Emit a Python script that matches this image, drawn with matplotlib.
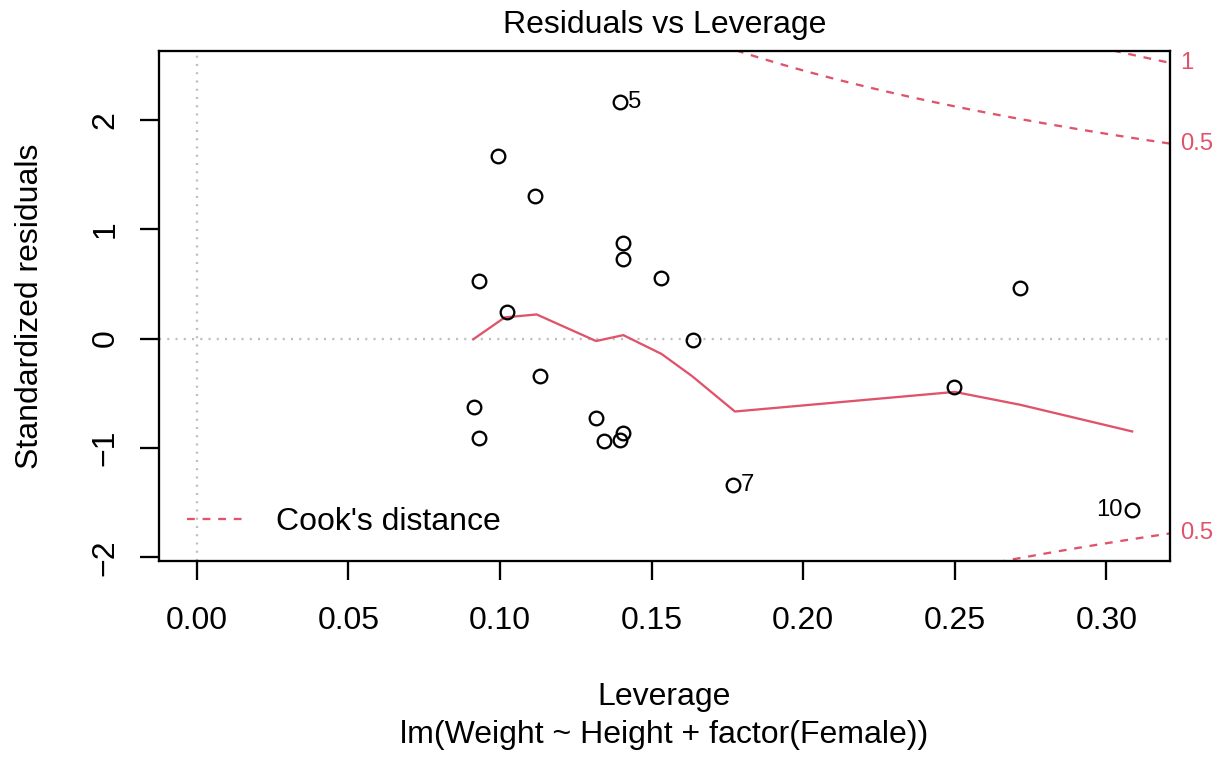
import numpy as np
import matplotlib
matplotlib.use("Agg")
import matplotlib.pyplot as plt

# Diagnostic data: leverage and standardized residuals per observation
obs_id = list(range(1, 21))
leverage = [0.0994, 0.1116, 0.1405, 0.1405, 0.1396, 0.1531, 0.1770, 0.0931, 0.1022, 0.3086,
            0.1636, 0.2715, 0.1132, 0.0913, 0.1316, 0.0932, 0.1343, 0.1395, 0.1406, 0.2499]
std_resid = [1.664, 1.299, 0.871, 0.725, 2.159, 0.552, -1.335, 0.524, 0.239, -1.563,
             -0.014, 0.460, -0.342, -0.622, -0.722, -0.910, -0.941, -0.925, -0.859, -0.439]
labeled_ids = [5, 7, 10]

# Smoothed trend through the residuals
smooth_x = [0.0912, 0.1016, 0.1121, 0.1317, 0.1407, 0.1533, 0.1633, 0.1775, 0.2500, 0.2717, 0.3085]
smooth_y = [-0.007, 0.193, 0.220, -0.023, 0.031, -0.141, -0.342, -0.667, -0.488, -0.606, -0.849]

# Cook's distance contour levels, number of model coefficients
cook_levels = [0.5, 1.0]
n_params = 3

x_ticks = [0.00, 0.05, 0.10, 0.15, 0.20, 0.25, 0.30]
x_tick_labels = ["0.00", "0.05", "0.10", "0.15", "0.20", "0.25", "0.30"]
y_ticks = [-2, -1, 0, 1, 2]
y_tick_labels = ["\u22122", "\u22121", "0", "1", "2"]

title_text = "Residuals vs Leverage"
x_label = "Leverage"
y_label = "Standardized residuals"
sub_label = "lm(Weight ~ Height + factor(Female))"
legend_label = "Cook's distance"

RED = "#DF536B"
FS = 23.0
FS_SMALL = 17.2
LW = 1.65
W, H = 1218, 757

plt.rcParams["font.family"] = ["Liberation Sans", "DejaVu Sans"]

fig = plt.figure(figsize=(W / 100, H / 100), dpi=100)
ax_l, ax_r, ax_t, ax_b = 159.3, 1169.7, 50.7, 561.0
ax = fig.add_axes([ax_l / W, 1 - ax_b / H, (ax_r - ax_l) / W, (ax_b - ax_t) / H])

xlim = (-0.01234, 0.3209)
ylim = (-2.033, 2.630)
ax.set_xlim(*xlim)
ax.set_ylim(*ylim)

# reference lines at zero
dotted = (0, (0.9, 2.7))
ax.axhline(0, color="#BEBEBE", lw=LW, linestyle=dotted, zorder=1)
ax.axvline(0, color="#BEBEBE", lw=LW, linestyle=dotted, zorder=1)

# points
ax.plot(leverage, std_resid, linestyle="none", marker="o", markersize=9.8,
        markerfacecolor="none", markeredgecolor="black", markeredgewidth=LW, zorder=3)

# smoother
ax.plot(smooth_x, smooth_y, color=RED, lw=LW, zorder=2)

# Cook's distance contours
dashed = (0, (3.4, 3.4))
hh = np.linspace(min(leverage[0], leverage[1] / 100), xlim[1], 101)
for crit in cook_levels:
    cl = np.sqrt(crit * n_params * (1 - hh) / hh)
    ax.plot(hh, cl, color=RED, lw=LW, linestyle=dashed, zorder=2)
    ax.plot(hh, -cl, color=RED, lw=LW, linestyle=dashed, zorder=2)

# contour level labels on the right
xmax = min(0.99, xlim[1])
for crit in cook_levels:
    aty = np.sqrt(crit * n_params * (1 - xmax) / xmax)
    for yy in (aty, -aty):
        if ylim[0] <= yy <= ylim[1]:
            ax.annotate(f"{crit:g}", xy=(1, yy), xycoords=("axes fraction", "data"),
                        xytext=(7.2, 0), textcoords="offset points",
                        ha="left", va="center", color=RED, fontsize=FS_SMALL,
                        annotation_clip=False)

# observation labels
mid = (min(leverage) + max(leverage)) / 2
for i, lev, r in zip(obs_id, leverage, std_resid):
    if i in labeled_ids:
        if lev > mid:
            ax.annotate(str(i), xy=(lev, r), xytext=(-7.0, 0), textcoords="offset points",
                        ha="right", va="center", fontsize=FS_SMALL)
        else:
            ax.annotate(str(i), xy=(lev, r), xytext=(5.5, 0), textcoords="offset points",
                        ha="left", va="center", fontsize=FS_SMALL)

# legend
leg = ax.legend([plt.Line2D([], [], color=RED, lw=LW, linestyle=dashed)], [legend_label],
                loc="center left", bbox_to_anchor=(27.4 / (ax_r - ax_l), 38.7 / (ax_b - ax_t)),
                frameon=False, fontsize=FS, handlelength=1.8, handletextpad=1.0,
                borderpad=0, borderaxespad=0)

# axes box and ticks
for s in ax.spines.values():
    s.set_linewidth(LW)
    s.set_color("black")

ax.set_xticks(x_ticks)
ax.set_xticklabels(x_tick_labels)
ax.set_yticks(y_ticks)
ax.set_yticklabels(y_tick_labels)
tick_len = 19 / 1.389
ax.tick_params(axis="both", direction="out", length=tick_len, width=LW, labelsize=FS,
               top=False, right=False)
ax.tick_params(axis="x", pad=49 / 1.389)
ax.tick_params(axis="y", pad=19.6 / 1.389, labelrotation=90)
for lab in ax.get_xticklabels():
    lab.set_va("baseline")
for lab in ax.get_yticklabels():
    lab.set_va("center")

# titles
fig.text((ax_l + ax_r) / 2 / W, 1 - 33.5 / H, title_text, ha="center", va="baseline", fontsize=FS)
fig.text((ax_l + ax_r) / 2 / W, 1 - 704.5 / H, x_label, ha="center", va="baseline", fontsize=FS)
fig.text((ax_l + ax_r) / 2 / W, 1 - 742.5 / H, sub_label, ha="center", va="baseline", fontsize=FS)
fig.text(38.0 / W, 1 - (ax_t + ax_b) / 2 / H, y_label, ha="center", va="baseline", rotation=90,
         rotation_mode="anchor", fontsize=FS)

fig.savefig("out.png", dpi=100)
